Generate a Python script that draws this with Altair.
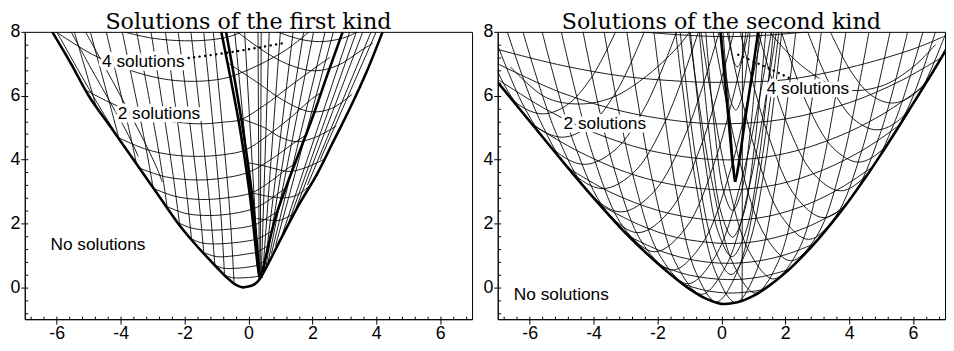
import altair as alt
import pandas as pd

# ---------------- LEFT PANEL: solutions of the first kind ----------------
L_ENVELOPE = [[(-6.14, 8.0), (-5.55, 7.0), (-5.0, 6.0), (-4.3, 5.0), (-3.6, 4.0), (-2.9, 3.0),
               (-2.2, 2.0), (-1.75, 1.45), (-1.3, 0.95), (-0.95, 0.58), (-0.65, 0.28), (-0.4, 0.08),
               (-0.2, 0.0), (0.0, 0.02), (0.2, 0.1), (0.35, 0.25), (0.6, 0.7), (1.1, 1.68),
               (1.6, 2.62), (2.14, 3.53), (2.65, 4.55), (3.17, 5.59), (3.7, 6.75), (4.2, 8.0)]]
L_FOLDS = [
    [(-0.85, 8.0), (-0.55, 6.5), (-0.27, 5.0), (0.03, 3.0), (0.2, 1.5), (0.3, 0.6), (0.35, 0.28)],
    [(-0.7, 8.0), (-0.43, 6.5), (-0.18, 5.0), (0.1, 3.0), (0.25, 1.5), (0.33, 0.6), (0.37, 0.3)],
    [(0.4, 0.3), (0.6, 1.2), (0.85, 2.2), (1.2, 3.2), (1.6, 4.25), (2.0, 5.3), (2.45, 6.6), (2.95, 8.0)],
]
L_STEEP = [
    [(-5.45, 8.0), (-4.95, 6.3), (-4.75, 5.6)],
    [(-4.95, 8.0), (-4.3, 5.6), (-4.05, 4.65)],
    [(-4.45, 8.0), (-3.75, 5.0), (-3.5, 3.85)],
    [(-3.95, 8.0), (-3.25, 4.6), (-2.98, 3.1)],
    [(-3.5, 8.0), (-2.8, 4.2), (-2.55, 2.55)],
    [(-3.05, 8.0), (-2.4, 3.8), (-2.15, 1.95)],
    [(-2.6, 8.0), (-2.0, 3.5), (-1.78, 1.5)],
    [(-2.2, 8.0), (-1.6, 3.2), (-1.4, 1.1)],
    [(-1.8, 8.0), (-1.25, 3.0), (-1.05, 0.7)],
    [(-1.4, 8.0), (-0.9, 2.8), (-0.75, 0.42)],
    [(-1.1, 8.0), (-0.6, 2.6), (-0.45, 0.15)],
]
L_HUG = [
    [(-6.0, 8.0), (-5.3, 6.75), (-4.6, 5.55), (-3.95, 4.5)],
    [(-5.55, 8.0), (-4.95, 6.9), (-4.3, 5.75), (-3.75, 4.75), (-3.45, 4.1)],
    [(-5.1, 8.0), (-4.55, 7.0), (-3.95, 5.9), (-3.35, 4.75), (-2.85, 3.7), (-2.7, 3.3)],
]
L_ARCS = [
    [(-3.9, 8.0), (-3.0, 7.8), (-2.0, 7.72), (-1.2, 7.75), (-0.6, 7.85), (-0.2, 8.0)],
    [(-5.95, 7.95), (-4.8, 7.25), (-3.5, 6.73), (-2.5, 6.5), (-1.7, 6.45), (-1.0, 6.5), (-0.55, 6.6),
     (0.3, 6.95), (1.2, 7.45), (1.9, 8.0)],
    [(-5.05, 6.15), (-4.1, 5.68), (-3.0, 5.3), (-1.6, 5.12), (-0.8, 5.17), (-0.25, 5.25), (0.5, 5.7),
     (1.3, 6.3), (2.15, 6.92), (2.55, 7.2)],
    [(-4.1, 4.7), (-3.2, 4.32), (-2.4, 4.15), (-1.6, 4.1), (-0.8, 4.15), (-0.1, 4.3), (0.6, 4.75),
     (1.3, 5.3), (2.05, 5.95), (2.3, 6.1)],
    [(-3.45, 3.75), (-2.6, 3.46), (-1.6, 3.36), (-0.8, 3.42), (0.0, 3.6), (0.7, 4.0), (1.4, 4.5), (1.85, 4.8)],
    [(-2.98, 3.1), (-2.3, 2.85), (-1.5, 2.75), (-0.7, 2.8), (0.08, 2.95), (0.6, 3.25), (1.2, 3.7), (1.5, 3.9)],
    [(-2.6, 2.55), (-2.0, 2.32), (-1.4, 2.25), (-0.7, 2.28), (0.13, 2.45), (0.6, 2.7), (1.15, 3.1)],
    [(-2.2, 2.02), (-1.8, 1.86), (-1.3, 1.79), (-0.6, 1.82), (0.18, 1.95), (0.55, 2.15), (0.95, 2.4)],
    [(-1.85, 1.55), (-1.5, 1.4), (-1.2, 1.36), (-0.6, 1.38), (0.22, 1.5), (0.5, 1.62), (0.78, 1.8)],
    [(-1.48, 1.12), (-1.0, 0.96), (-0.5, 0.98), (0.0, 1.05), (0.27, 1.1), (0.6, 1.3)],
    [(-1.1, 0.72), (-0.8, 0.6), (-0.3, 0.6), (0.1, 0.65), (0.31, 0.7), (0.55, 0.85)],
    [(-0.75, 0.38), (-0.5, 0.3), (-0.1, 0.3), (0.3, 0.35), (0.45, 0.45)],
]
L_FAN = [
    [(0.3, 0.45), (-0.43, 8.0)], [(0.32, 0.4), (-0.12, 8.0)],
    [(0.34, 0.3), (0.3, 8.0)], [(0.37, 0.3), (0.4, 8.0)], [(0.4, 0.35), (0.65, 8.0)],
    [(0.45, 0.45), (1.0, 8.0)], [(0.5, 0.55), (1.4, 8.0)],
    [(0.56, 0.7), (1.73, 8.0)], [(0.62, 0.8), (2.04, 8.0)],
    [(0.72, 1.05), (2.4, 8.0)], [(0.85, 1.3), (2.66, 8.0)],
    [(1.05, 1.62), (3.17, 8.0)], [(1.25, 2.0), (3.38, 8.0)], [(1.5, 2.5), (3.58, 8.0)],
    [(1.85, 3.2), (3.84, 8.0)], [(2.25, 4.0), (4.0, 8.0)],
]
L_RIGHT_ARCS = [
    [(0.9, 8.0), (1.7, 7.75), (2.4, 7.7), (3.1, 7.85), (3.4, 8.0)],
    [(-0.35, 8.0), (0.4, 7.45), (1.2, 7.0), (2.05, 6.78), (2.8, 6.95), (3.5, 7.4), (3.9, 7.65)],
    [(-0.6, 7.0), (0.3, 6.4), (1.1, 5.85), (1.93, 5.5), (2.6, 5.6), (3.25, 6.05)],
    [(-0.3, 5.3), (0.5, 5.0), (1.0, 4.7), (1.52, 4.56), (2.1, 4.7), (2.75, 5.05)],
    [(-0.02, 3.9), (0.5, 3.8), (1.0, 3.67), (1.32, 3.63), (1.8, 3.75), (2.35, 4.0)],
    [(0.15, 2.95), (0.6, 2.85), (1.11, 2.8), (1.5, 2.88), (1.95, 3.2)],
    [(0.25, 2.15), (0.7, 2.1), (1.0, 2.1), (1.4, 2.3)],
]
L_DOTS = [[(-1.87, 7.18), (-0.64, 7.35), (0.39, 7.52), (1.16, 7.66)]]
L_LABELS = ["4 solutions", "2 solutions", "No solutions"]
L_LABEL_X = [-3.29, -2.80, -4.71]
L_LABEL_Y = [7.04, 5.43, 1.33]

# ---------------- RIGHT PANEL: solutions of the second kind ----------------
R_ENVELOPE = [[(-7.0, 6.42), (-6.0, 5.2), (-5.0, 3.98), (-4.0, 2.8), (-3.0, 1.7), (-2.0, 0.75),
               (-1.5, 0.33), (-1.0, -0.05), (-0.5, -0.35), (0.0, -0.52), (0.5, -0.47), (1.0, -0.27),
               (1.5, 0.05), (2.0, 0.45), (2.5, 0.93), (3.0, 1.47), (3.5, 2.07), (4.0, 2.72),
               (4.5, 3.42), (5.0, 4.17), (5.5, 4.95), (6.0, 5.75), (6.5, 6.55), (7.0, 7.38)]]
R_CUSP = [
    [(-0.03, 8.0), (0.1, 6.6), (0.22, 5.3), (0.33, 4.1), (0.4, 3.5), (0.43, 3.3)],
    [(1.15, 8.0), (0.95, 6.6), (0.75, 5.3), (0.58, 4.1), (0.48, 3.5), (0.43, 3.3)],
]
R_CUSP_THIN = [
    [(0.05, 8.0), (0.16, 6.6), (0.27, 5.3), (0.36, 4.1), (0.42, 3.5)],
    [(0.0, 8.0), (0.15, 6.6), (0.3, 5.82), (0.45, 5.55), (0.6, 5.82), (0.75, 6.6), (0.9, 8.0)],
    [(0.23, 8.0), (0.32, 7.38), (0.41, 7.02), (0.5, 6.9), (0.59, 7.02), (0.68, 7.38), (0.77, 8.0)],
    [(0.65, -0.45), (0.66, 8.0)],
]
R_WIDE = [
    [(-2.5, 8.0), (-1.2, 7.9), (0.2, 7.85), (1.5, 7.9), (2.7, 8.0)],
    [(-7.0, 7.45), (-5.0, 6.95), (-3.0, 6.6), (-1.0, 6.44), (0.0, 6.42), (2.0, 6.5), (4.0, 6.88), (6.0, 7.46), (6.95, 7.85)],
    [(-7.0, 7.0), (-5.0, 6.09), (-3.0, 5.49), (-1.0, 5.17), (0.2, 5.12), (2.0, 5.27), (4.0, 5.78), (5.6, 6.46), (6.9, 7.2)],
    [(-6.95, 6.48), (-5.5, 5.58), (-4.0, 4.85), (-2.0, 4.23), (0.2, 3.99), (2.0, 4.19), (3.6, 4.7), (5.0, 5.39), (6.3, 6.27)],
    [(-5.9, 5.08), (-4.5, 4.27), (-3.0, 3.61), (-1.5, 3.21), (0.2, 3.05), (1.8, 3.23), (3.2, 3.68), (4.5, 4.34), (5.6, 5.1)],
    [(-4.8, 3.74), (-3.5, 2.99), (-2.0, 2.41), (-0.8, 2.16), (0.2, 2.09), (1.5, 2.23), (2.8, 2.64), (3.8, 3.15), (4.7, 3.75)],
    [(-3.8, 2.58), (-2.6, 1.97), (-1.4, 1.56), (0.2, 1.37), (1.4, 1.49), (2.6, 1.85), (3.8, 2.45)],
    [(-2.9, 1.6), (-1.8, 1.1), (-0.8, 0.84), (0.2, 0.75), (1.2, 0.83), (2.1, 1.05), (2.9, 1.36)],
    [(-1.9, 0.67), (-1.0, 0.38), (0.2, 0.24), (1.2, 0.32), (2.1, 0.55)],
    [(-1.2, 0.1), (-0.5, -0.1), (0.2, -0.18), (0.8, -0.15), (1.3, -0.08)],
    [(-6.6, 6.9), (-5.5, 5.95), (-4.45, 5.74), (-3.4, 5.95), (-2.3, 6.65), (-1.3, 7.6), (-1.0, 8.0)],
    [(1.5, 8.0), (2.5, 6.95), (3.8, 6.2), (5.0, 6.3), (6.0, 6.9), (6.7, 7.6)],
]
R_STEEP = [
    [(-7.08, 6.55), (-6.33, 5.71), (-5.58, 5.43), (-4.83, 5.71), (-4.08, 6.55), (-3.31, 8.0)],
    [(-7.55, 8.0), (-6.68, 6.14), (-5.83, 5.06), (-4.98, 4.7), (-4.13, 5.06), (-3.28, 6.14), (-2.41, 8.0)],
    [(-7.16, 8.0), (-6.18, 5.66), (-5.23, 4.30), (-4.28, 3.85), (-3.33, 4.30), (-2.38, 5.66), (-1.40, 8.0)],
    [(-6.70, 8.0), (-5.68, 5.23), (-4.70, 3.62), (-3.71, 3.09), (-2.72, 3.62), (-1.74, 5.23), (-0.72, 8.0)],
    [(-6.21, 8.0), (-5.17, 4.82), (-4.15, 2.97), (-3.14, 2.36), (-2.13, 2.97), (-1.11, 4.82), (-0.07, 8.0)],
    [(-5.61, 8.0), (-4.59, 4.45), (-3.60, 2.39), (-2.61, 1.71), (-1.62, 2.39), (-0.63, 4.45), (0.39, 8.0)],
    [(-5.01, 8.0), (-4.01, 4.11), (-3.05, 1.86), (-2.08, 1.11), (-1.11, 1.86), (-0.15, 4.11), (0.85, 8.0)],
    [(-4.33, 8.0), (-3.38, 3.79), (-2.45, 1.35), (-1.53, 0.54), (-0.61, 1.35), (0.32, 3.79), (1.27, 8.0)],
    [(-3.67, 8.0), (-2.78, 3.55), (-1.91, 0.97), (-1.05, 0.11), (-0.19, 0.97), (0.68, 3.55), (1.57, 8.0)],
    [(-2.96, 8.0), (-2.16, 3.36), (-1.39, 0.68), (-0.62, -0.22), (0.15, 0.68), (0.92, 3.36), (1.72, 8.0)],
    [(-2.11, 8.0), (-1.45, 3.23), (-0.80, 0.47), (-0.155, -0.455), (0.49, 0.47), (1.14, 3.23), (1.80, 8.0)],
    [(-1.43, 8.0), (-0.79, 3.21), (-0.17, 0.44), (0.45, -0.48), (1.07, 0.44), (1.69, 3.21), (2.33, 8.0)],
    [(-1.01, 8.0), (-0.31, 3.38), (0.38, 0.71), (1.06, -0.18), (1.74, 0.71), (2.43, 3.38), (3.13, 8.0)],
    [(-0.64, 8.0), (0.13, 3.63), (0.88, 1.10), (1.63, 0.26), (2.38, 1.10), (3.13, 3.63), (3.90, 8.0)],
    [(-0.26, 8.0), (0.57, 3.95), (1.37, 1.61), (2.18, 0.83), (2.99, 1.61), (3.79, 3.95), (4.62, 8.0)],
    [(0.18, 8.0), (1.05, 4.33), (1.89, 2.21), (2.73, 1.5), (3.57, 2.21), (4.41, 4.33), (5.28, 8.0)],
    [(0.59, 8.0), (1.48, 4.72), (2.35, 2.81), (3.21, 2.18), (4.07, 2.81), (4.94, 4.72), (5.83, 8.0)],
    [(1.15, 8.0), (2.03, 5.19), (2.88, 3.56), (3.73, 3.02), (4.58, 3.56), (5.43, 5.19), (6.31, 8.0)],
    [(1.88, 8.0), (2.70, 5.70), (3.50, 4.36), (4.29, 3.92), (5.09, 4.36), (5.88, 5.70), (6.70, 8.0)],
    [(2.70, 8.0), (3.44, 6.27), (4.15, 5.26), (4.87, 4.93), (5.59, 5.26), (6.30, 6.27), (7.04, 8.0)],
    [(3.41, 8.0), (4.07, 6.74), (4.70, 6.01), (5.34, 5.77), (5.98, 6.01), (6.61, 6.74), (7.27, 8.0)],
    [(-0.49, 8.0), (-0.20, 4.84), (0.07, 3.01), (0.35, 2.4), (0.63, 3.01), (0.90, 4.84), (1.19, 8.0)],
    [(-0.69, 8.0), (-0.33, 4.37), (0.01, 2.27), (0.35, 1.57), (0.69, 2.27), (1.03, 4.37), (1.39, 8.0)],
    [(-0.97, 8.0), (-0.52, 4.03), (-0.10, 1.73), (0.33, 0.96), (0.76, 1.73), (1.18, 4.03), (1.63, 8.0)],
    [(-1.29, 8.0), (-0.75, 3.71), (-0.22, 1.23), (0.30, 0.4), (0.82, 1.23), (1.35, 3.71), (1.89, 8.0)],
]
R_DOTS = [[(0.53, 7.28), (1.10, 7.03), (1.61, 6.80), (2.17, 6.53)]]
R_LABELS = ["2 solutions", "4 solutions", "No solutions"]
R_LABEL_X = [-3.65, 2.71, -5.01]
R_LABEL_Y = [5.12, 6.22, -0.25]

X_MAJOR = [-6, -4, -2, 0, 2, 4, 6]
Y_MAJOR = [0, 2, 4, 6, 8]
X_MINOR = [round(-6.8 + 0.4 * k, 1) for k in range(35)]
Y_MINOR = [round(-0.8 + 0.4 * k, 1) for k in range(22)]

W, H = 453, 291


def curves_df(curves, tag):
    rows = []
    for i, c in enumerate(curves):
        for j, (x, y) in enumerate(c):
            rows.append({"cid": f"{tag}{i}", "ord": j, "x": x, "y": y})
    return pd.DataFrame(rows)


def panel(title, thin_sets, thick_sets, dots, labels, lx, ly):
    xs = alt.Scale(domain=[-7, 7], nice=False, zero=False)
    ys = alt.Scale(domain=[-1, 8], nice=False, zero=False)
    thin = pd.concat([curves_df(c, f"t{k}_") for k, c in enumerate(thin_sets)], ignore_index=True)
    thick = pd.concat([curves_df(c, f"T{k}_") for k, c in enumerate(thick_sets)], ignore_index=True)
    dot = curves_df(dots, "d")
    lab = pd.DataFrame({"label": labels, "x": lx, "y": ly})

    main_x = alt.Axis(orient="bottom", values=X_MAJOR, tickSize=5, labelPadding=1,
                      labelExpr="datum.value < 0 ? '-' + abs(datum.value) : '' + datum.value",
                      grid=False, title=None)
    main_y = alt.Axis(orient="left", values=Y_MAJOR, tickSize=4, labelPadding=1,
                      minExtent=16, maxExtent=16, grid=False, title=None)
    in_x = alt.Axis(orient="top", offset=-H, values=X_MINOR, tickSize=3, labels=False,
                    domain=False, grid=False, title=None)
    in_y = alt.Axis(orient="right", offset=-W, values=Y_MINOR, tickSize=3, labels=False,
                    domain=False, grid=False, title=None)

    l_thin = alt.Chart(thin).mark_line(color="black", strokeWidth=0.9, interpolate="catmull-rom", clip=True).encode(
        x=alt.X("x:Q", scale=xs, axis=main_x), y=alt.Y("y:Q", scale=ys, axis=main_y),
        detail="cid:N", order="ord:Q")
    l_thick = alt.Chart(thick).mark_line(color="black", strokeWidth=2.6, interpolate="catmull-rom", clip=True).encode(
        x=alt.X("x:Q", scale=xs, axis=None), y=alt.Y("y:Q", scale=ys, axis=None),
        detail="cid:N", order="ord:Q")
    l_dot = alt.Chart(dot).mark_line(color="black", strokeWidth=2.4, strokeCap="round", strokeDash=[0.1, 5.5],
                                     interpolate="catmull-rom", clip=True).encode(
        x=alt.X("x:Q", scale=xs, axis=in_x), y=alt.Y("y:Q", scale=ys, axis=in_y),
        detail="cid:N", order="ord:Q")
    halo = alt.Chart(lab).mark_text(font="Liberation Sans", fontSize=17.5, color="white", stroke="white",
                                    strokeWidth=7, strokeJoin="round").encode(
        x=alt.X("x:Q", scale=xs, axis=None), y=alt.Y("y:Q", scale=ys, axis=None), text="label:N")
    txt = alt.Chart(lab).mark_text(font="Liberation Sans", fontSize=17.5, color="black").encode(
        x=alt.X("x:Q", scale=xs, axis=None), y=alt.Y("y:Q", scale=ys, axis=None), text="label:N")

    return alt.layer(l_thin, l_thick, l_dot, halo, txt).resolve_axis(
        x="independent", y="independent").properties(
        width=W, height=H,
        title=alt.TitleParams(text=title, font="DejaVu Serif", fontSize=22.5, fontWeight="normal",
                              color="black", offset=-10.5, anchor="middle"))


left = panel("Solutions of the first kind",
             [L_STEEP, L_HUG, L_ARCS, L_FAN, L_RIGHT_ARCS], [L_ENVELOPE, L_FOLDS],
             L_DOTS, L_LABELS, L_LABEL_X, L_LABEL_Y)
right = panel("Solutions of the second kind",
              [R_WIDE, R_STEEP, R_CUSP_THIN], [R_ENVELOPE, R_CUSP],
              R_DOTS, R_LABELS, R_LABEL_X, R_LABEL_Y)

chart = alt.hconcat(left, right, spacing=8).properties(padding=0).configure_view(
    stroke="black", strokeWidth=1).configure_axis(
    domainColor="black", tickColor="black", labelColor="black", labelFont="Liberation Sans",
    labelFontSize=18, domainWidth=1, tickWidth=1)

chart.save("out.html", embed_options={"renderer": "svg", "actions": False})
